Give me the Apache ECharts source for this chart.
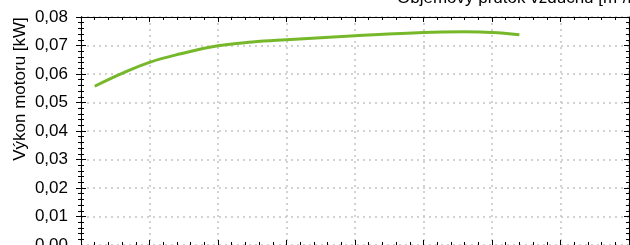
<!DOCTYPE html>
<html>
<head>
<meta charset="utf-8">
<script src="https://cdn.jsdelivr.net/npm/echarts@6/dist/echarts.min.js"></script>
<style>html,body{margin:0;padding:0;background:#fff;}#c{width:630px;height:245px;}</style>
</head>
<body>
<div id="c"></div>
<script>
const flowValues = [2, 6, 10, 14.4, 20, 25, 30, 40, 50, 56, 60, 64];
const powerValues = [0.0557, 0.0602, 0.0641, 0.0670, 0.0699, 0.0712, 0.0720, 0.0734, 0.0746, 0.0748, 0.0746, 0.0738];
const xTitle = 'Objemový průtok vzduchu [m³/h]';
const yTitle = 'Výkon motoru [kW]';
const yTickLabels = ['0,00','0,01','0,02','0,03','0,04','0,05','0,06','0,07','0,08'];

const chart = echarts.init(document.getElementById('c'), null, {renderer: 'canvas'});
const font = 'Liberation Sans, Arial, sans-serif';
const axisBase = {
  min: 0,
  axisLine: {show: true, onZero: false, lineStyle: {color: '#000', width: 1}},
  axisTick: {show: true, inside: true, length: 5, lineStyle: {color: '#000'}},
  minorTick: {show: true, splitNumber: 5, length: 3, lineStyle: {color: '#000'}},
  axisLabel: {show: false},
  splitLine: {show: false}
};
chart.setOption({
  animation: false,
  grid: {left: 81, right: 1, top: 17, bottom: 0, containLabel: false, outerBoundsMode: 'none'},
  xAxis: [
    Object.assign({}, axisBase, {type: 'value', position: 'bottom', max: 80, interval: 10,
      splitLine: {show: true, lineStyle: {color: '#c4c4c4', type: [2, 4], width: 1.5}}}),
    Object.assign({}, axisBase, {type: 'value', position: 'top', max: 80, interval: 10})
  ],
  yAxis: [
    Object.assign({}, axisBase, {type: 'value', position: 'left', max: 0.08, interval: 0.01,
      axisTick: {show: true, inside: false, length: 5, lineStyle: {color: '#000'}},
      minorTick: {show: true, splitNumber: 5, length: 3, lineStyle: {color: '#000'}},
      axisLabel: {show: true, margin: 13, color: '#000', fontSize: 17, fontFamily: font,
        formatter: v => yTickLabels[Math.round(v * 100)]},
      splitLine: {show: true, lineStyle: {color: '#c4c4c4', type: [2, 4], width: 1.5}}}),
    Object.assign({}, axisBase, {type: 'value', position: 'left', max: 0.08, interval: 0.01}),
    Object.assign({}, axisBase, {type: 'value', position: 'right', max: 0.08, interval: 0.01})
  ],
  graphic: [
    {type: 'text', left: 397, top: -10, style: {text: xTitle, fill: '#000', font: '17px ' + font}},
    {type: 'text', x: 20, y: 89, rotation: Math.PI / 2,
      style: {text: yTitle, fill: '#000', font: '17px ' + font, align: 'center', verticalAlign: 'middle'}}
  ],
  series: [{
    type: 'line', xAxisIndex: 0, yAxisIndex: 0, smooth: 0.4, symbol: 'none',
    lineStyle: {color: '#76b82a', width: 3},
    data: flowValues.map((x, i) => [x, powerValues[i]])
  }]
});
</script>
</body>
</html>
